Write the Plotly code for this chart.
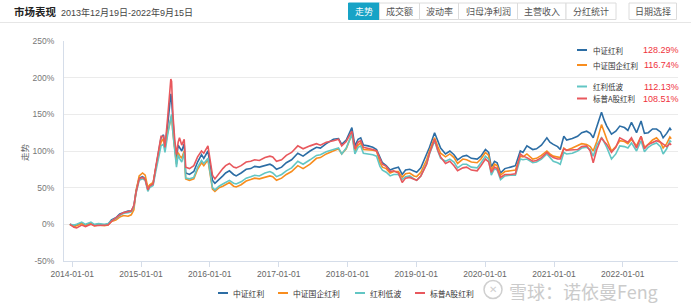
import plotly.graph_objects as go

# ---------------- data ----------------
dates = [
    "2013-12-19", "2014-01-10", "2014-01-24", "2014-02-20", "2014-03-12", "2014-04-10", "2014-04-28",
    "2014-05-20", "2014-06-20", "2014-07-10", "2014-07-28", "2014-08-20", "2014-09-10", "2014-09-30",
    "2014-10-24", "2014-11-10", "2014-11-24", "2014-12-05", "2014-12-22", "2015-01-09", "2015-01-23",
    "2015-02-06", "2015-02-16", "2015-03-06", "2015-03-20", "2015-04-03", "2015-04-17", "2015-04-30",
    "2015-05-08", "2015-05-22", "2015-06-08", "2015-06-12", "2015-06-19", "2015-06-29", "2015-07-08",
    "2015-07-17", "2015-07-24", "2015-08-05", "2015-08-18", "2015-08-26", "2015-09-15", "2015-10-08",
    "2015-10-28", "2015-11-18", "2015-11-30", "2015-12-22", "2016-01-07", "2016-01-15", "2016-01-28",
    "2016-02-19", "2016-03-10", "2016-03-25", "2016-04-14", "2016-05-06", "2016-05-20", "2016-06-15",
    "2016-07-12", "2016-08-05", "2016-08-26", "2016-09-20", "2016-10-20", "2016-11-15", "2016-11-30",
    "2016-12-20", "2017-01-16", "2017-02-10", "2017-03-10", "2017-04-12", "2017-05-10", "2017-06-16",
    "2017-07-20", "2017-08-10", "2017-09-10", "2017-10-18", "2017-11-14", "2017-12-01", "2017-12-25",
    "2018-01-24", "2018-02-09", "2018-02-26", "2018-03-12", "2018-03-26", "2018-04-20", "2018-05-15",
    "2018-06-04", "2018-06-22", "2018-07-05", "2018-07-25", "2018-08-15", "2018-09-03", "2018-09-28",
    "2018-10-18", "2018-11-05", "2018-11-27", "2018-12-20", "2019-01-03", "2019-01-25", "2019-02-25",
    "2019-03-12", "2019-04-08", "2019-04-25", "2019-05-10", "2019-06-05", "2019-06-28", "2019-07-20",
    "2019-08-08", "2019-09-05", "2019-09-25", "2019-10-20", "2019-11-20", "2019-12-10", "2020-01-03",
    "2020-01-20", "2020-02-03", "2020-02-20", "2020-03-05", "2020-03-23", "2020-04-15", "2020-05-15",
    "2020-06-10", "2020-07-06", "2020-07-20", "2020-08-10", "2020-09-10", "2020-09-30", "2020-10-26",
    "2020-11-24", "2020-12-10", "2020-12-28", "2021-01-20", "2021-02-03", "2021-02-22", "2021-03-09",
    "2021-04-08", "2021-05-06", "2021-05-28", "2021-06-23", "2021-07-12", "2021-07-28", "2021-08-16",
    "2021-09-10", "2021-09-24", "2021-10-08", "2021-11-02", "2021-11-25", "2021-12-16", "2022-01-10",
    "2022-01-28", "2022-02-16", "2022-03-15", "2022-04-08", "2022-04-26", "2022-05-16", "2022-06-08",
    "2022-06-29", "2022-07-20", "2022-08-03", "2022-08-22", "2022-09-08", "2022-09-15",
]

zzhl = [  # 中证红利
    0, -2, -1, 2, -1, 2, -1, 0, -1, 0, 6, 9, 14, 16, 18, 18, 25, 45, 63, 65, 62,
    48, 53, 56, 78, 100, 118, 122, 106, 135, 178, 170, 140, 105, 90, 108, 105, 100, 110, 70,
    68, 72, 85, 95, 90, 100, 75, 60, 56, 62, 66, 70, 73, 68, 66, 70, 75, 76, 79, 78, 80, 82,
    80, 75, 78, 84, 88, 97, 93, 100, 105, 104, 110, 116, 117, 109, 115, 132, 107, 116, 118,
    108, 107, 105, 102, 90, 84, 80, 74, 76, 78, 68, 74, 75, 72, 71, 77, 95, 105, 125, 113,
    104, 96, 100, 95, 88, 93, 94, 90, 89, 93, 102, 98, 78, 86, 84, 70, 76, 78, 80, 100, 98,
    107, 102, 103, 108, 118, 112, 109, 106, 102, 120, 115, 117, 120, 125, 127, 124, 118, 132,
    153, 142, 134, 123, 127, 134, 132, 128, 139, 125, 141, 124, 125, 130, 130, 126, 118, 124,
    131, 128.29,
]
zzgqhl = [  # 中证国企红利
    0, -3, -2, 1, -2, 1, -2, -1, -2, -1, 4, 6, 10, 12, 11, 13, 20, 45, 66, 70, 67,
    50, 54, 57, 76, 96, 112, 117, 104, 125, 145, 148, 125, 100, 82, 98, 94, 90, 100, 62,
    60, 62, 75, 84, 80, 88, 62, 48, 45, 50, 52, 54, 57, 52, 51, 54, 59, 61, 63, 62, 64, 66,
    65, 60, 63, 68, 72, 80, 76, 82, 90, 91, 96, 100, 103, 96, 103, 123, 100, 108, 111,
    102, 102, 101, 100, 84, 78, 76, 70, 72, 72, 64, 69, 70, 66, 65, 71, 88, 100, 118, 106,
    97, 92, 96, 91, 83, 89, 88, 85, 84, 89, 98, 94, 74, 82, 80, 67, 72, 73, 74, 93, 92,
    96, 89, 90, 94, 100, 96, 93, 92, 91, 104, 101, 104, 107, 110, 109, 106, 100, 113,
    136, 125, 116, 100, 106, 114, 113, 110, 116, 107, 120, 105, 109, 115, 118, 112, 104, 110,
    119, 116.74,
]
hldb = [  # 红利低波
    0, -1, 0, 3, 0, 3, 0, 1, 0, 1, 5, 8, 12, 15, 16, 17, 24, 42, 60, 62, 60,
    45, 50, 53, 72, 92, 107, 109, 98, 122, 142, 150, 125, 98, 78, 95, 90, 85, 98, 63,
    62, 64, 78, 87, 83, 90, 64, 50, 47, 52, 55, 57, 60, 56, 55, 58, 63, 65, 67, 66, 70, 72,
    70, 65, 68, 73, 77, 86, 82, 88, 94, 95, 99, 102, 104, 96, 104, 123, 96, 105, 107,
    97, 96, 95, 93, 79, 74, 71, 66, 68, 68, 61, 65, 66, 62, 60, 66, 83, 96, 114, 100,
    90, 86, 89, 85, 77, 82, 82, 78, 77, 84, 93, 89, 67, 76, 74, 61, 66, 67, 67, 89, 88,
    89, 84, 85, 89, 96, 91, 86, 84, 82, 98, 96, 97, 100, 104, 105, 102, 93, 108,
    118, 112, 105, 89, 96, 107, 106, 104, 111, 100, 114, 99, 105, 109, 111, 106, 96, 103,
    114, 112.13,
]
bpagl = [  # 标普A股红利
    0, -4, -5, -1, -3, 0, -2, -2, -2, -1, 4, 9, 13, 16, 17, 18, 26, 43, 62, 64, 61,
    47, 52, 55, 78, 100, 120, 120, 105, 145, 198, 195, 150, 115, 95, 112, 118, 108, 116, 78,
    76, 80, 92, 100, 97, 107, 80, 67, 62, 70, 76, 80, 83, 78, 77, 80, 85, 86, 88, 87, 91, 93,
    92, 86, 88, 94, 98, 107, 103, 107, 110, 108, 112, 114, 116, 107, 113, 127, 103, 112, 114,
    105, 104, 102, 100, 88, 82, 79, 72, 73, 70, 57, 63, 64, 61, 60, 66, 82, 97, 116, 101,
    92, 83, 86, 80, 73, 77, 78, 74, 73, 80, 89, 85, 71, 78, 76, 64, 68, 68, 69, 96, 93,
    91, 86, 87, 91, 98, 94, 91, 89, 89, 103, 101, 101, 102, 106, 107, 100, 84, 102,
    118, 113, 109, 98, 105, 118, 115, 112, 118, 104, 120, 103, 109, 112, 114, 112, 109, 106,
    110, 108.51,
]

names = ["中证红利", "中证国企红利", "红利低波", "标普A股红利"]
finals = ["128.29%", "116.74%", "112.13%", "108.51%"]
series = [zzhl, zzgqhl, hldb, bpagl]
colors = ["#2c6da4", "#f88d1e", "#62c6c4", "#e8585d"]

x_ticks = ["2014-01-01", "2015-01-01", "2016-01-01", "2017-01-01", "2018-01-01",
           "2019-01-01", "2020-01-01", "2021-01-01", "2022-01-01"]
y_ticks = [-50, 0, 50, 100, 150, 200, 250]
y_tick_text = ["-50%", "0%", "50%", "100%", "150%", "200%", "250%"]
buttons = ["走势", "成交额", "波动率", "归母净利润", "主营收入", "分红统计"]

# ---------------- layout helpers (pixel -> paper) ----------------
W, H = 691, 308
L, R, T, B = 64, 13, 41, 47
PW, PH = W - L - R, H - T - B


def px(x):
    return (x - L) / PW


def py(y):
    return (H - B - y) / PH


FONT = "Liberation Sans, Noto Sans CJK SC, sans-serif"
CJK = "Noto Sans CJK SC, sans-serif"

fig = go.Figure()
for name, vals, col in zip(names, series, colors):
    fig.add_trace(go.Scatter(x=dates, y=vals, name=name, mode="lines",
                             line=dict(color=col, width=1.6), showlegend=False))

annotations = []
shapes = []

# header
annotations.append(dict(text="<b>市场表现</b>", x=px(12), y=py(12), xref="paper", yref="paper",
                        xanchor="left", yanchor="middle", showarrow=False,
                        font=dict(size=10.5, color="#222", family=CJK)))
annotations.append(dict(text="2013年12月19日-2022年9月15日", x=px(59), y=py(12.5), xref="paper",
                        yref="paper", xanchor="left", yanchor="middle", showarrow=False,
                        font=dict(size=9, color="#444", family=FONT)))
shapes.append(dict(type="line", xref="paper", yref="paper", x0=px(0), x1=px(691), y0=py(22.5),
                   y1=py(22.5), line=dict(color="#e6e6e6", width=1)))

btn_edges = [348.5, 379.5, 419.5, 458.5, 517.5, 566, 616]
for i, label in enumerate(buttons):
    x0, x1 = btn_edges[i], btn_edges[i + 1]
    active = i == 0
    shapes.append(dict(type="rect", xref="paper", yref="paper", x0=px(x0), x1=px(x1),
                       y0=py(19.5), y1=py(3), fillcolor="#17a3c6" if active else "white",
                       line=dict(color="#17a3c6" if active else "#dcdcdc", width=1)))
    annotations.append(dict(text=label, x=px((x0 + x1) / 2), y=py(11.5), xref="paper", yref="paper",
                            xanchor="center", yanchor="middle", showarrow=False,
                            font=dict(size=9, color="white" if active else "#555", family=CJK)))
shapes.append(dict(type="rect", xref="paper", yref="paper", x0=px(629), x1=px(676.5),
                   y0=py(19.5), y1=py(3), fillcolor="white", line=dict(color="#dcdcdc", width=1)))
annotations.append(dict(text="日期选择", x=px(653), y=py(11.5), xref="paper", yref="paper",
                        xanchor="center", yanchor="middle", showarrow=False,
                        font=dict(size=9, color="#555", family=CJK)))

# y-axis title
annotations.append(dict(text="走势", x=px(24), y=py(152), xref="paper", yref="paper",
                        textangle=-90, showarrow=False, xanchor="center", yanchor="middle",
                        font=dict(size=8.5, color="#666", family=CJK)))

# top-right legend with final values
leg_y = [50, 65, 86.5, 98.5]
for name, fin, col, yy in zip(names, finals, colors, leg_y):
    shapes.append(dict(type="line", xref="paper", yref="paper", x0=px(577), x1=px(587),
                       y0=py(yy), y1=py(yy), line=dict(color=col, width=2)))
    annotations.append(dict(text=name, x=px(591), y=py(yy), xref="paper", yref="paper",
                            xanchor="left", yanchor="middle", showarrow=False,
                            font=dict(size=7.5, color="#333", family=CJK)))
    annotations.append(dict(text=fin, x=px(681), y=py(yy), xref="paper", yref="paper",
                            xanchor="right", yanchor="middle", showarrow=False,
                            font=dict(size=9, color="#f0323c", family=FONT)))

# bottom legend
leg_x = [218, 278, 355, 415]
for name, col, xx in zip(names, colors, leg_x):
    shapes.append(dict(type="line", xref="paper", yref="paper", x0=px(xx), x1=px(xx + 10),
                       y0=py(293), y1=py(293), line=dict(color=col, width=2)))
    annotations.append(dict(text=name, x=px(xx + 13), y=py(293), xref="paper", yref="paper",
                            xanchor="left", yanchor="middle", showarrow=False,
                            font=dict(size=7.8, color="#333", family=CJK)))

# watermark
shapes.append(dict(type="circle", xref="paper", yref="paper", x0=px(484), x1=px(502),
                   y0=py(298.5), y1=py(280.5), line=dict(color="#cfcfcf", width=1.5)))
annotations.append(dict(text="✕", x=px(493), y=py(289.5), xref="paper", yref="paper",
                        xanchor="center", yanchor="middle", showarrow=False,
                        font=dict(size=10, color="#cfcfcf", family=FONT)))
annotations.append(dict(text="雪球：诺依曼Feng", x=px(507), y=py(290.5), xref="paper", yref="paper",
                        xanchor="left", yanchor="middle", showarrow=False,
                        font=dict(size=18, color="#cbcbcb", family=CJK)))

fig.update_layout(
    width=W, height=H,
    margin=dict(l=L, r=R, t=T, b=B),
    paper_bgcolor="white", plot_bgcolor="white",
    showlegend=False,
    font=dict(family=FONT, size=9, color="#666"),
    annotations=annotations,
    shapes=shapes,
    xaxis=dict(type="date", range=["2013-11-18", "2022-10-21"], tickvals=x_ticks,
               tickformat="%Y-%m-%d", showgrid=False, showline=True, linecolor="#d5dde9",
               linewidth=1, ticks="outside", ticklen=5, tickcolor="#d5dde9",
               tickfont=dict(size=8.5, color="#666"), zeroline=False, fixedrange=True),
    yaxis=dict(range=[-50, 250], tickvals=y_ticks, ticktext=y_tick_text, showgrid=True,
               gridcolor="#ebebeb", gridwidth=1, showline=True, linecolor="#d5dde9",
               linewidth=1, ticks="", tickfont=dict(size=8.5, color="#777"),
               zeroline=False, ticklabelstandoff=7, fixedrange=True),
)

fig.write_html("out.html")
